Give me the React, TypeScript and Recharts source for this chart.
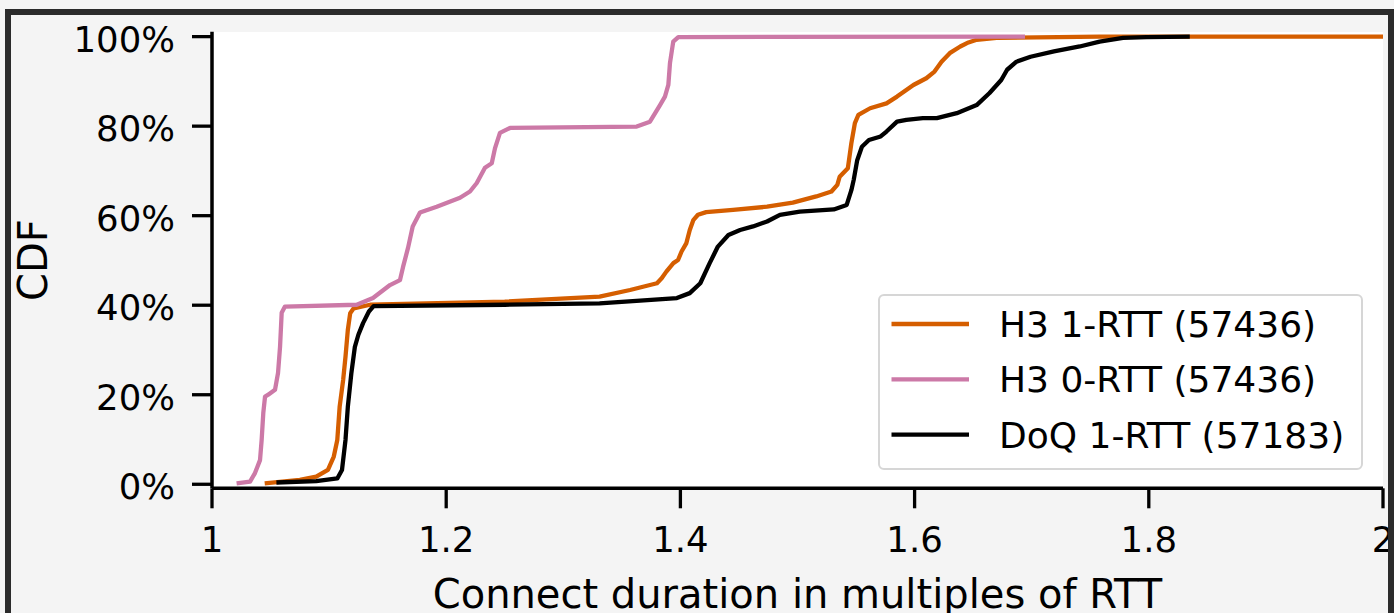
import { LineChart, Line, XAxis, YAxis, Legend, Label } from 'recharts';

// (x = connect duration / RTT, y = CDF)
const h3OneRttX = [1.045, 1.075, 1.089, 1.099, 1.104, 1.107, 1.109, 1.112, 1.114, 1.116, 1.118, 1.121, 1.135, 1.25, 1.331, 1.357, 1.38, 1.384, 1.388, 1.394, 1.398, 1.401, 1.405, 1.408, 1.411, 1.415, 1.422, 1.445, 1.474, 1.496, 1.516, 1.529, 1.534, 1.536, 1.543, 1.546, 1.549, 1.552, 1.562, 1.576, 1.585, 1.599, 1.61, 1.617, 1.623, 1.63, 1.639, 1.646, 1.653, 1.67, 1.758, 2.0];
const h3OneRttY = [0.002, 0.01, 0.017, 0.032, 0.062, 0.099, 0.173, 0.233, 0.285, 0.345, 0.382, 0.393, 0.401, 0.408, 0.419, 0.434, 0.449, 0.46, 0.475, 0.494, 0.501, 0.52, 0.538, 0.568, 0.59, 0.602, 0.608, 0.613, 0.62, 0.629, 0.643, 0.654, 0.669, 0.687, 0.706, 0.762, 0.807, 0.825, 0.84, 0.851, 0.866, 0.892, 0.907, 0.922, 0.944, 0.963, 0.978, 0.987, 0.993, 0.997, 1.0, 1.0];

const h3ZeroRttX = [1.021, 1.0325, 1.0367, 1.041, 1.0424, 1.0438, 1.0453, 1.048, 1.0538, 1.0564, 1.0581, 1.0595, 1.0623, 1.1236, 1.1375, 1.152, 1.1605, 1.1631, 1.1674, 1.1714, 1.1776, 1.1919, 1.2118, 1.2203, 1.2261, 1.2331, 1.2389, 1.2417, 1.2459, 1.2545, 1.3627, 1.374, 1.3826, 1.3868, 1.3897, 1.3911, 1.3939, 1.3982, 1.6943];
const h3ZeroRttY = [0.002, 0.006, 0.025, 0.054, 0.099, 0.159, 0.196, 0.2, 0.211, 0.249, 0.307, 0.383, 0.397, 0.401, 0.416, 0.445, 0.456, 0.485, 0.528, 0.576, 0.607, 0.62, 0.64, 0.654, 0.673, 0.707, 0.717, 0.751, 0.785, 0.796, 0.799, 0.81, 0.847, 0.866, 0.892, 0.941, 0.989, 0.999, 1.0];

const doqX = [1.055, 1.089, 1.107, 1.111, 1.114, 1.116, 1.119, 1.122, 1.125, 1.129, 1.134, 1.138, 1.25, 1.331, 1.397, 1.408, 1.417, 1.425, 1.432, 1.441, 1.451, 1.462, 1.474, 1.485, 1.502, 1.531, 1.542, 1.546, 1.548, 1.551, 1.555, 1.561, 1.571, 1.576, 1.585, 1.593, 1.607, 1.619, 1.636, 1.653, 1.664, 1.674, 1.679, 1.687, 1.699, 1.719, 1.741, 1.758, 1.778, 1.798, 1.835];
const doqY = [0.004, 0.007, 0.013, 0.032, 0.099, 0.173, 0.248, 0.307, 0.334, 0.36, 0.386, 0.398, 0.401, 0.404, 0.416, 0.427, 0.449, 0.494, 0.531, 0.557, 0.568, 0.576, 0.587, 0.602, 0.609, 0.614, 0.624, 0.657, 0.68, 0.724, 0.754, 0.769, 0.777, 0.788, 0.81, 0.814, 0.818, 0.818, 0.829, 0.847, 0.874, 0.903, 0.926, 0.944, 0.955, 0.967, 0.978, 0.989, 0.997, 0.999, 1.0];

const xTicks = [1, 1.2, 1.4, 1.6, 1.8, 2];
const yTicks = [0, 0.2, 0.4, 0.6, 0.8, 1];

const seriesNames = ['H3 1-RTT (57436)', 'H3 0-RTT (57436)', 'DoQ 1-RTT (57183)'];
const seriesColors = ['#d55e00', '#cc79a7', '#000000'];

const FONT = '"DejaVu Sans", Verdana, sans-serif';

const toPoints = (xs: number[], ys: number[]) => xs.map((x, i) => ({ x, y: ys[i] }));

const series = [
    toPoints(h3OneRttX, h3OneRttY),
    toPoints(h3ZeroRttX, h3ZeroRttY),
    toPoints(doqX, doqY),
];

const fmtX = (v: number) => (Number.isInteger(v) ? String(v) : v.toFixed(1));
const fmtY = (v: number) => `${Math.round(v * 100)}%`;

function XTick(props: any) {
    const { x, y, payload } = props;
    return (
        <text x={x} y={y + 44} textAnchor="middle" fontSize={35.5} fontFamily={FONT} fill="#000">
            {fmtX(payload.value)}
        </text>
    );
}

function YTick(props: any) {
    const { x, y, payload } = props;
    return (
        <text x={x - 17} y={y + 15} textAnchor="end" fontSize={35.5} fontFamily={FONT} fill="#000">
            {fmtY(payload.value)}
        </text>
    );
}

function LegendBox(props: any) {
    // keep the plotting order (recharts hands the payload over reversed)
    const items = [...(props.payload || [])].sort(
        (a: any, b: any) => seriesNames.indexOf(a.value) - seriesNames.indexOf(b.value)
    );
    return (
        <div
            style={{
                position: 'relative',
                boxSizing: 'border-box',
                width: 485,
                height: 176,
                border: '2px solid #d6d6d6',
                borderRadius: 6,
                background: 'rgba(255,255,255,0.8)',
            }}
        >
            <svg width={481} height={172} style={{ position: 'absolute', left: 0, top: 0 }}>
                {items.map((it: any, i: number) => {
                    const cy = 28 + i * 55.3;
                    return (
                        <g key={it.value}>
                            <line x1={11.5} x2={89} y1={cy} y2={cy} stroke={it.color} strokeWidth={4.3} />
                            <text x={119} y={cy + 13} fontSize={36} fontFamily={FONT} fill="#000">
                                {it.value}
                            </text>
                        </g>
                    );
                })}
            </svg>
        </div>
    );
}

export default function App() {
    return (
        <div
            style={{
                position: 'absolute',
                left: 0,
                top: 0,
                width: 1394,
                height: 613,
                background: '#f4f4f4',
                overflow: 'hidden',
            }}
        >
            {/* white axes face */}
            <div style={{ position: 'absolute', left: 213, top: 31.7, width: 1170, height: 456.6, background: '#fff' }} />
            <div style={{ position: 'absolute', left: 0, top: 0 }}>
                <LineChart
                    width={1394}
                    height={613}
                    margin={{ top: 31.7, right: 11, bottom: 64.7, left: 112 }}
                >
                    <XAxis
                        dataKey="x"
                        type="number"
                        domain={[1, 2]}
                        ticks={xTicks}
                        allowDataOverflow
                        height={60}
                        tickSize={20}
                        tickMargin={0}
                        axisLine={{ stroke: '#000', strokeWidth: 3.5 }}
                        tickLine={{ stroke: '#000', strokeWidth: 3.3 }}
                        tick={<XTick />}
                        allowDuplicatedCategory={false}
                    >
                        <Label
                            content={(p: any) => {
                                const vb = p.viewBox;
                                return (
                                    <text x={vb.x + vb.width / 2} y={vb.y + 120} textAnchor="middle" fontSize={40} fontFamily={FONT} fill="#000">
                                        Connect duration in multiples of RTT
                                    </text>
                                );
                            }}
                        />
                    </XAxis>
                    <YAxis
                        type="number"
                        domain={[-0.009, 1.011]}
                        ticks={yTicks}
                        allowDataOverflow
                        width={100}
                        tickSize={20}
                        tickMargin={0}
                        axisLine={{ stroke: '#000', strokeWidth: 3.5 }}
                        tickLine={{ stroke: '#000', strokeWidth: 3.3 }}
                        tick={<YTick />}
                    >
                        <Label
                            content={(p: any) => {
                                const vb = p.viewBox;
                                const cx = vb.x - 65;
                                const cy = vb.y + vb.height / 2;
                                return (
                                    <text x={cx} y={cy} transform={`rotate(-90, ${cx}, ${cy})`} textAnchor="middle" fontSize={40} fontFamily={FONT} fill="#000">
                                        CDF
                                    </text>
                                );
                            }}
                        />
                    </YAxis>
                    {series.map((data, i) => (
                        <Line
                            key={seriesNames[i]}
                            data={data}
                            dataKey="y"
                            name={seriesNames[i]}
                            type="linear"
                            stroke={seriesColors[i]}
                            strokeWidth={4.3}
                            strokeLinejoin="round"
                            dot={false}
                            activeDot={false}
                            isAnimationActive={false}
                        />
                    ))}
                    <Legend
                        layout="vertical"
                        align="center"
                        verticalAlign="middle"
                        content={<LegendBox />}
                        wrapperStyle={{ position: 'absolute', left: 878, top: 294, width: 485, height: 176 }}
                    />
                </LineChart>
            </div>
            {/* dark frame around the figure */}
            <div
                style={{
                    position: 'absolute',
                    left: 5,
                    top: 9,
                    width: 1377,
                    height: 700,
                    border: '6px solid #2b2b2b',
                    borderBottom: 'none',
                    pointerEvents: 'none',
                }}
            />
        </div>
    );
}
